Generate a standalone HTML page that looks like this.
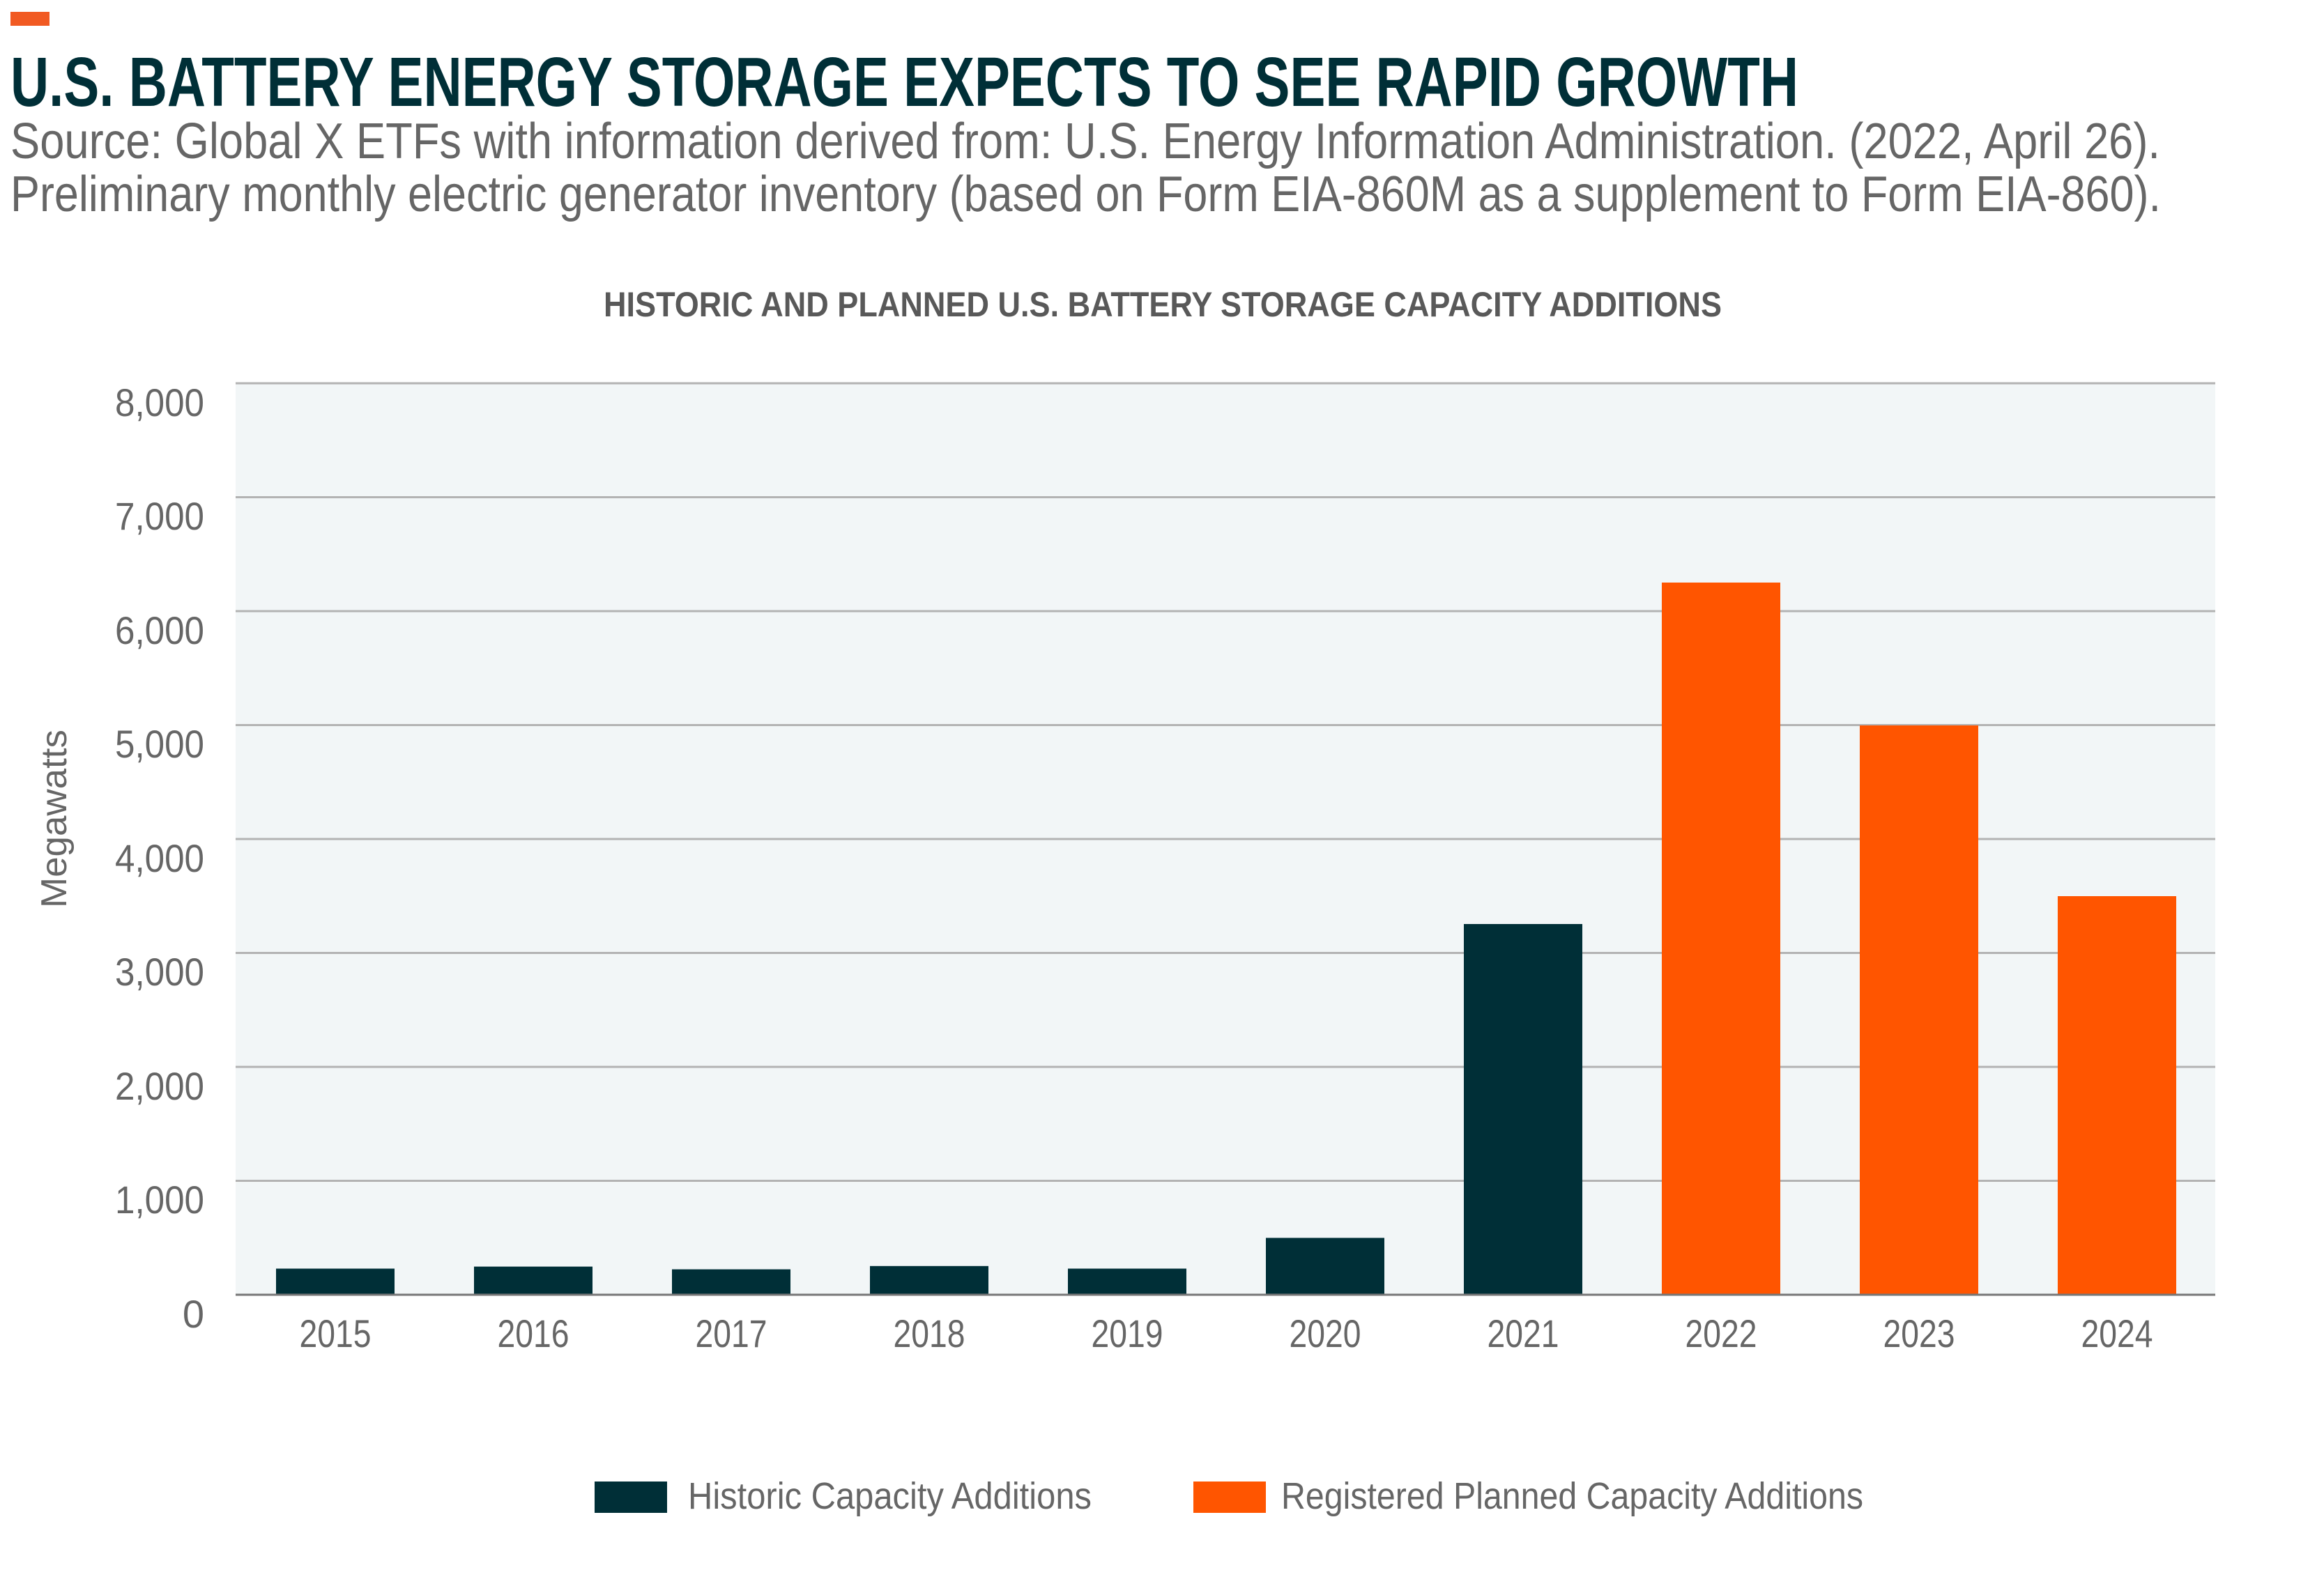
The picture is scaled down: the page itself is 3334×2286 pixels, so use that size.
<!DOCTYPE html>
<html><head><meta charset="utf-8"><style>
html,body{margin:0;padding:0;background:#fff;}
svg{display:block;}
text{font-family:"Liberation Sans Narrow","Liberation Sans",sans-serif;}
</style></head><body>
<svg width="3334" height="2286" viewBox="0 0 3334 2286" xmlns="http://www.w3.org/2000/svg">
<rect x="15" y="17" width="56" height="20" fill="#f15a22"/>
<text x="15" y="152" font-size="100" font-weight="bold" fill="#002f37" textLength="2565" lengthAdjust="spacingAndGlyphs">U.S. BATTERY ENERGY STORAGE EXPECTS TO SEE RAPID GROWTH</text>
<text x="15" y="227" font-size="72" fill="#666" textLength="3084" lengthAdjust="spacingAndGlyphs">Source:  Global X ETFs with information derived from: U.S. Energy Information Administration. (2022, April 26).</text>
<text x="15" y="303" font-size="72" fill="#666" textLength="3085" lengthAdjust="spacingAndGlyphs">Preliminary monthly electric generator inventory (based on Form EIA-860M as a supplement to Form EIA-860).</text>
<text x="866" y="454" font-size="50" font-weight="bold" fill="#595959" textLength="1604" lengthAdjust="spacingAndGlyphs">HISTORIC AND PLANNED U.S. BATTERY STORAGE CAPACITY ADDITIONS</text>
<rect x="338" y="549" width="2840" height="1309" fill="#f2f6f7"/>
<g stroke="#b3b3b3" stroke-width="3">
<line x1="338" x2="3178" y1="550" y2="550"/>
<line x1="338" x2="3178" y1="713.5" y2="713.5"/>
<line x1="338" x2="3178" y1="877" y2="877"/>
<line x1="338" x2="3178" y1="1040.5" y2="1040.5"/>
<line x1="338" x2="3178" y1="1204" y2="1204"/>
<line x1="338" x2="3178" y1="1367.5" y2="1367.5"/>
<line x1="338" x2="3178" y1="1531" y2="1531"/>
<line x1="338" x2="3178" y1="1694.5" y2="1694.5"/>
</g>
<g fill="#002f37">
<rect x="396" y="1820.5" width="170" height="37.5"/>
<rect x="680" y="1817.6" width="170" height="40.4"/>
<rect x="964" y="1821.5" width="170" height="36.5"/>
<rect x="1248" y="1816.8" width="170" height="41.2"/>
<rect x="1532" y="1820.5" width="170" height="37.5"/>
<rect x="1816" y="1776.4" width="170" height="81.6"/>
<rect x="2100" y="1326" width="170" height="532"/>
</g>
<g fill="#ff5500">
<rect x="2384" y="836" width="170" height="1022"/>
<rect x="2668" y="1041" width="170" height="817"/>
<rect x="2952" y="1286" width="170" height="572"/>
</g>
<line x1="338" x2="3178" y1="1858" y2="1858" stroke="#777" stroke-width="3"/>
<g font-size="56" fill="#666" text-anchor="end">
<text x="293" y="597" textLength="128" lengthAdjust="spacingAndGlyphs">8,000</text>
<text x="293" y="760" textLength="128" lengthAdjust="spacingAndGlyphs">7,000</text>
<text x="293" y="924" textLength="128" lengthAdjust="spacingAndGlyphs">6,000</text>
<text x="293" y="1087" textLength="128" lengthAdjust="spacingAndGlyphs">5,000</text>
<text x="293" y="1251" textLength="128" lengthAdjust="spacingAndGlyphs">4,000</text>
<text x="293" y="1414" textLength="128" lengthAdjust="spacingAndGlyphs">3,000</text>
<text x="293" y="1578" textLength="128" lengthAdjust="spacingAndGlyphs">2,000</text>
<text x="293" y="1741" textLength="128" lengthAdjust="spacingAndGlyphs">1,000</text>
<text x="293" y="1905">0</text>
</g>
<g font-size="56" fill="#666" text-anchor="middle">
<text x="481" y="1933" textLength="103" lengthAdjust="spacingAndGlyphs">2015</text>
<text x="765" y="1933" textLength="103" lengthAdjust="spacingAndGlyphs">2016</text>
<text x="1049" y="1933" textLength="103" lengthAdjust="spacingAndGlyphs">2017</text>
<text x="1333" y="1933" textLength="103" lengthAdjust="spacingAndGlyphs">2018</text>
<text x="1617" y="1933" textLength="103" lengthAdjust="spacingAndGlyphs">2019</text>
<text x="1901" y="1933" textLength="103" lengthAdjust="spacingAndGlyphs">2020</text>
<text x="2185" y="1933" textLength="103" lengthAdjust="spacingAndGlyphs">2021</text>
<text x="2469" y="1933" textLength="103" lengthAdjust="spacingAndGlyphs">2022</text>
<text x="2753" y="1933" textLength="103" lengthAdjust="spacingAndGlyphs">2023</text>
<text x="3037" y="1933" textLength="103" lengthAdjust="spacingAndGlyphs">2024</text>
</g>
<text transform="translate(95,1175) rotate(-90)" font-size="52" fill="#666" text-anchor="middle" textLength="256" lengthAdjust="spacingAndGlyphs">Megawatts</text>
<rect x="853" y="2126" width="104" height="45" fill="#002f37"/>
<text x="987" y="2165" font-size="54" fill="#666" textLength="579" lengthAdjust="spacingAndGlyphs">Historic Capacity Additions</text>
<rect x="1712" y="2126" width="104" height="45" fill="#ff5500"/>
<text x="1838" y="2165" font-size="54" fill="#666" textLength="835" lengthAdjust="spacingAndGlyphs">Registered Planned Capacity Additions</text>
</svg>
</body></html>
